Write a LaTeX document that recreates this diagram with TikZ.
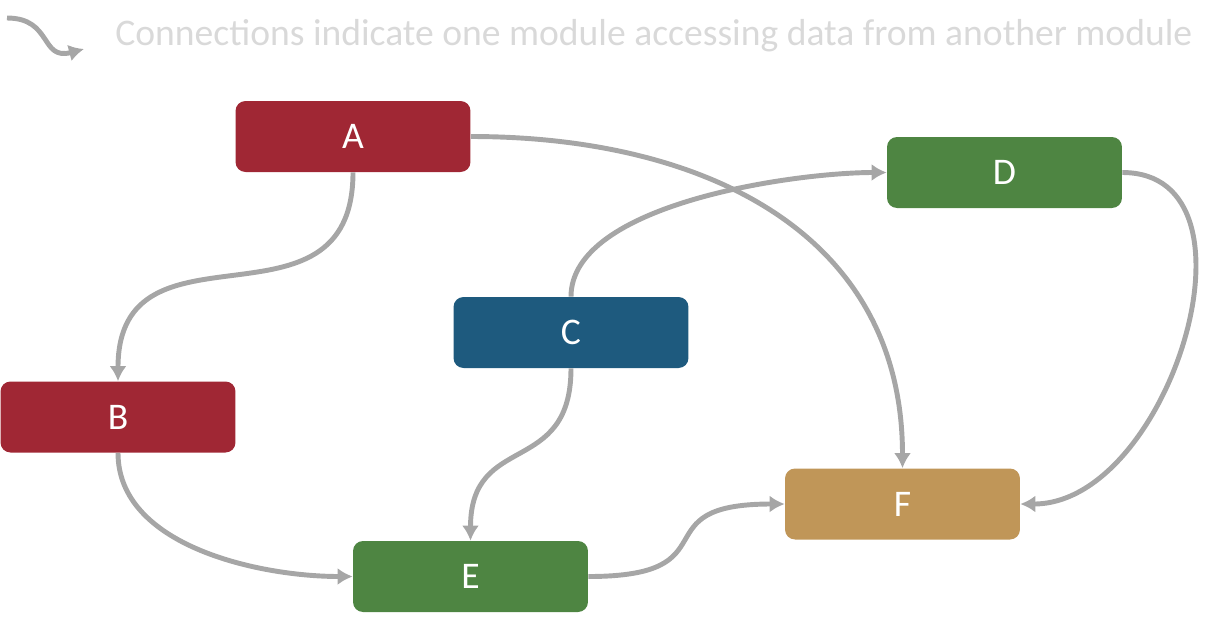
\documentclass[tikz,border=0pt]{standalone}
\usepackage{fontspec}
\setmainfont{Carlito}
\usetikzlibrary{arrows.meta,positioning}
\definecolor{modred}{HTML}{A02734}
\definecolor{modblue}{HTML}{1E5A7E}
\definecolor{modgreen}{HTML}{4E8542}
\definecolor{modtan}{HTML}{C09658}
\definecolor{linkgray}{HTML}{A6A6A6}
\definecolor{notegray}{HTML}{D9D9D9}
\begin{document}
\begin{tikzpicture}[x=0.02cm,y=-0.02cm,
module/.style={rectangle,rounded corners=0.2cm,minimum width=4.7cm,minimum height=1.42cm,inner sep=0pt,text=white,font=\fontsize{21.4}{25}\selectfont},
link/.style={draw=linkgray,line width=2.8pt,-{Latex[length=0.3cm,width=0.34cm]}}]
\useasboundingbox (0,0) rectangle (1221,620);
\node[module,fill=modred] at (353,136.5) (A) {A};
\node[module,fill=modred] at (118,417) (B) {B};
\node[module,fill=modblue] at (571,332.5) (C) {C};
\node[module,fill=modgreen] at (1004.5,172.5) (D) {D};
\node[module,fill=modgreen] at (470.5,576.5) (E) {E};
\node[module,fill=modtan] at (902.5,504) (F) {F};
\coordinate (note1) at (7,18);
\coordinate (note2) at (84,49);
\node[anchor=west,text=notegray,font=\fontsize{21.4}{25}\selectfont,inner sep=0pt] at (115,36) (note) {Connections indicate one module accessing data from another module};

\draw[link] (note1) to[out=0,in=195,looseness=1.4] (note2);
\draw[link] (A.south) to[out=-90,in=90,looseness=1.4] (B.north);
\draw[link] (A.east) to[out=0,in=90,looseness=1.1] (F.north);
\draw[link] (C.north) to[out=90,in=180,looseness=0.7] (D.west);
\draw[link] (C.south) to[out=-90,in=90,looseness=1.4] (E.north);
\draw[link] (B.south) to[out=-90,in=180,looseness=0.9] (E.west);
\draw[link] (E.east) to[out=0,in=180,looseness=1.8] (F.west);
\draw[link] (D.east) to[out=0,in=0,looseness=1.1] (F.east);
\end{tikzpicture}
\end{document}
